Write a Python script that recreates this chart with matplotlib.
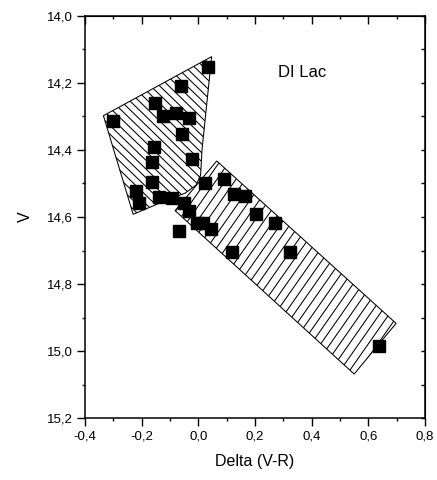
import matplotlib

matplotlib.use("Agg")
import matplotlib.pyplot as plt
import numpy as np
from matplotlib.collections import LineCollection
from matplotlib.patches import Polygon
from matplotlib.ticker import FuncFormatter, MultipleLocator
from matplotlib.transforms import IdentityTransform

# Measured colour index vs magnitude
delta_vr = [-0.300, 0.035, -0.061, -0.153, -0.124, -0.080, -0.032, -0.057, -0.155, -0.165,
            -0.024, -0.165, -0.221, -0.209, -0.138, -0.092, -0.050, -0.032, 0.024, -0.006,
            0.018, 0.045, -0.068, 0.092, 0.127, 0.165, 0.204, 0.271, 0.118, 0.324, 0.638]
v_mag = [14.313, 14.154, 14.210, 14.259, 14.298, 14.289, 14.306, 14.353, 14.392, 14.435,
         14.428, 14.495, 14.522, 14.557, 14.539, 14.542, 14.557, 14.582, 14.500, 14.619,
         14.619, 14.637, 14.641, 14.487, 14.531, 14.537, 14.592, 14.617, 14.705, 14.703, 14.984]

# Hatched regions (x, V)
upper_region = [(0.047, 14.122), (-0.335, 14.298), (-0.230, 14.592), (-0.118, 14.552),
                (-0.047, 14.529), (-0.008, 14.505), (0.008, 14.475), (0.013, 14.400)]
lower_region = [(0.065, 14.433), (-0.082, 14.581), (0.550, 15.068), (0.698, 14.917)]

plt.rcParams["font.family"] = ["Liberation Sans", "DejaVu Sans"]


def hatched_region(ax, verts, angle, spacing, lw=0.75):
    """Outline + hatch lines drawn in pixel space, clipped to the polygon."""
    patch = Polygon(verts, closed=True, facecolor="none", edgecolor="black", lw=lw, zorder=1)
    ax.add_patch(patch)
    pts = ax.transData.transform(np.asarray(verts))
    c = pts.mean(axis=0)
    r = np.ptp(pts, axis=0).max()
    a = np.deg2rad(angle)
    d = np.array([np.cos(a), np.sin(a)])
    n = np.array([-d[1], d[0]])
    segs = [[c + k * n - r * d, c + k * n + r * d] for k in np.arange(-r, r, spacing)]
    lc = LineCollection(segs, colors="black", linewidths=lw, transform=IdentityTransform(), zorder=1)
    ax.add_collection(lc)
    lc.set_clip_path(patch)


fig = plt.figure(figsize=(4.37, 4.80), dpi=100)
ax = fig.add_axes([0.1945, 0.1285, 0.778, 0.8388])
ax.set_xlim(-0.4, 0.8)
ax.set_ylim(15.2, 14.0)

hatched_region(ax, upper_region, angle=-44, spacing=6.3)
hatched_region(ax, lower_region, angle=55, spacing=7.8)
ax.plot(delta_vr, v_mag, "s", color="black", ms=8.4, zorder=3)

ax.text(0.281, 14.168, "DI Lac", fontsize=12, va="center", ha="left")

ax.xaxis.set_major_locator(MultipleLocator(0.2))
ax.xaxis.set_minor_locator(MultipleLocator(0.1))
ax.yaxis.set_major_locator(MultipleLocator(0.2))
ax.yaxis.set_minor_locator(MultipleLocator(0.1))
comma = FuncFormatter(lambda val, pos: f"{val:.1f}".replace(".", ",").replace("-0,0", "0,0"))
ax.xaxis.set_major_formatter(comma)
ax.yaxis.set_major_formatter(comma)

ax.tick_params(which="both", direction="out", width=1.0, labelsize=9.5)
ax.tick_params(which="major", length=5.5)
ax.tick_params(which="minor", length=2.5)
for side in ax.spines.values():
    side.set_linewidth(1.1)

# top and right ticks point inward
axt = ax.secondary_xaxis("top")
axt.xaxis.set_major_locator(MultipleLocator(0.2))
axt.xaxis.set_minor_locator(MultipleLocator(0.1))
axt.tick_params(which="both", direction="in", labeltop=False, width=1.0)
axt.tick_params(which="major", length=5.5)
axt.tick_params(which="minor", length=2.5)
axr = ax.secondary_yaxis("right")
axr.yaxis.set_major_locator(MultipleLocator(0.2))
axr.yaxis.set_minor_locator(MultipleLocator(0.1))
axr.tick_params(which="both", direction="in", labelright=False, length=3, width=1.0)

ax.set_xlabel("Delta (V-R)", fontsize=11.5, labelpad=8)
ax.set_ylabel("V", fontsize=11.5, labelpad=10)

fig.savefig("out.png", dpi=100)
